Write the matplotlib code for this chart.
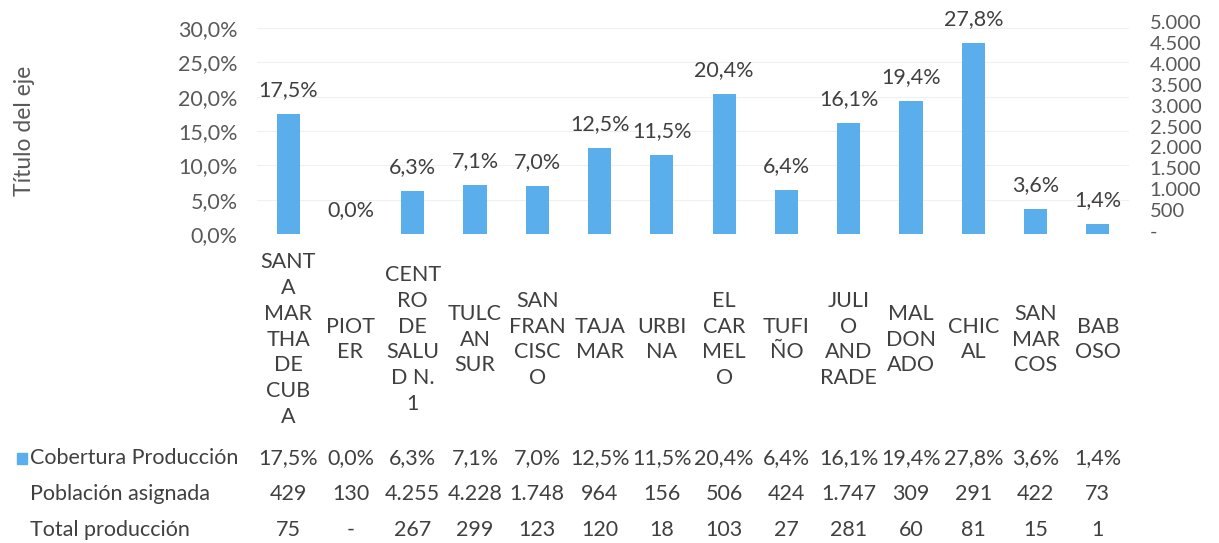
import matplotlib.pyplot as plt
from matplotlib.ticker import FuncFormatter, MultipleLocator
import matplotlib.transforms as mtransforms

plt.rcParams['font.family'] = ['Lato', 'DejaVu Sans']

# datos
etiquetas = ['SANT\nA\nMAR\nTHA\nDE\nCUB\nA', 'PIOT\nER', 'CENT\nRO\nDE\nSALU\nD N.\n1',
             'TULC\nAN\nSUR', 'SAN\nFRAN\nCISC\nO', 'TAJA\nMAR', 'URBI\nNA', 'EL\nCAR\nMEL\nO',
             'TUFI\nÑO', 'JULI\nO\nAND\nRADE', 'MAL\nDON\nADO', 'CHIC\nAL', 'SAN\nMAR\nCOS', 'BAB\nOSO']
cobertura = [17.5, 0.0, 6.3, 7.1, 7.0, 12.5, 11.5, 20.4, 6.4, 16.1, 19.4, 27.8, 3.6, 1.4]
poblacion = [429, 130, 4255, 4228, 1748, 964, 156, 506, 424, 1747, 309, 291, 422, 73]
produccion = [75, 0, 267, 299, 123, 120, 18, 103, 27, 281, 60, 81, 15, 1]

azul = '#5AAEEC'
gris = '#595959'
oscuro = '#404040'
fs = 15.5

W, H = 1219, 543
fig = plt.figure(figsize=(W / 100, H / 100), dpi=100)

def caja(x0, x1, ytop, ybot):
    return [x0 / W, (H - ybot) / H, (x1 - x0) / W, (ybot - ytop) / H]

ax = fig.add_axes(caja(257, 1129, 28, 234))
x = list(range(len(cobertura)))
ax.bar(x, cobertura, width=0.37, color=azul, zorder=2)
ax.set_xlim(-0.5, len(x) - 0.5)
ax.set_ylim(0, 30)
ax.yaxis.set_major_locator(MultipleLocator(5))
ax.yaxis.set_major_formatter(FuncFormatter(lambda v, p: f'{v:.1f}%'.replace('.', ',')))
ax.grid(axis='y', color='#f0f0f0', lw=0.8, zorder=0)
for s in ax.spines.values():
    s.set_visible(False)
ax.tick_params(axis='y', length=0, pad=14, labelsize=fs, labelcolor=gris)
ax.set_xticks(x)
ax.set_xticklabels(etiquetas, fontsize=fs, color=oscuro, linespacing=1.36)
ax.tick_params(axis='x', length=0, pad=76)
for t in ax.get_xticklabels():
    t.set_va('center')
ax.set_ylabel('Título del eje', fontsize=16.5, color=gris, labelpad=0)
ax.yaxis.set_label_coords(-0.255, 0.5)

for xi, v in zip(x, cobertura):
    ax.annotate(f'{v:.1f}%'.replace('.', ','), (xi, v), xytext=(0, 10), textcoords='offset points',
                ha='center', va='bottom', fontsize=fs, color=oscuro)

# eje derecho
ax2 = fig.add_axes(caja(257, 1129, 22, 231))
ax2.patch.set_visible(False)
ax2.set_xlim(ax.get_xlim())
ax2.set_xticks([])
ax2.set_ylim(0, 5000)
for s in ax2.spines.values():
    s.set_visible(False)
ax2.yaxis.tick_right()
ax2.yaxis.set_major_locator(MultipleLocator(500))
ax2.yaxis.set_major_formatter(FuncFormatter(lambda v, p: '-' if v == 0 else f'{int(v):,}'.replace(',', '.')))
ax2.tick_params(axis='y', length=0, pad=15, labelsize=14.5, labelcolor=gris)

# tabla de datos
trans = mtransforms.blended_transform_factory(ax.transData, fig.transFigure)
filas = [
    ('Cobertura Producción', [f'{v:.1f}%'.replace('.', ',') for v in cobertura]),
    ('Población asignada', [f'{v:,}'.replace(',', '.') for v in poblacion]),
    ('Total producción', ['-' if v == 0 else f'{v:,}'.replace(',', '.') for v in produccion]),
]
for i, (nombre, vals) in enumerate(filas):
    yc = (H - (458 + 36 * i)) / H
    fig.text(30 / W, yc, nombre, ha='left', va='center', fontsize=fs, color=oscuro)
    for xi, s in zip(x, vals):
        ax.text(xi, yc, s, transform=trans, ha='center', va='center', fontsize=fs, color=oscuro)
fig.patches.append(plt.Rectangle((17 / W, (H - 464) / H), 10 / W, 11 / H, color=azul,
                                 transform=fig.transFigure, figure=fig))

fig.savefig('out.png', dpi=100, facecolor='white')
